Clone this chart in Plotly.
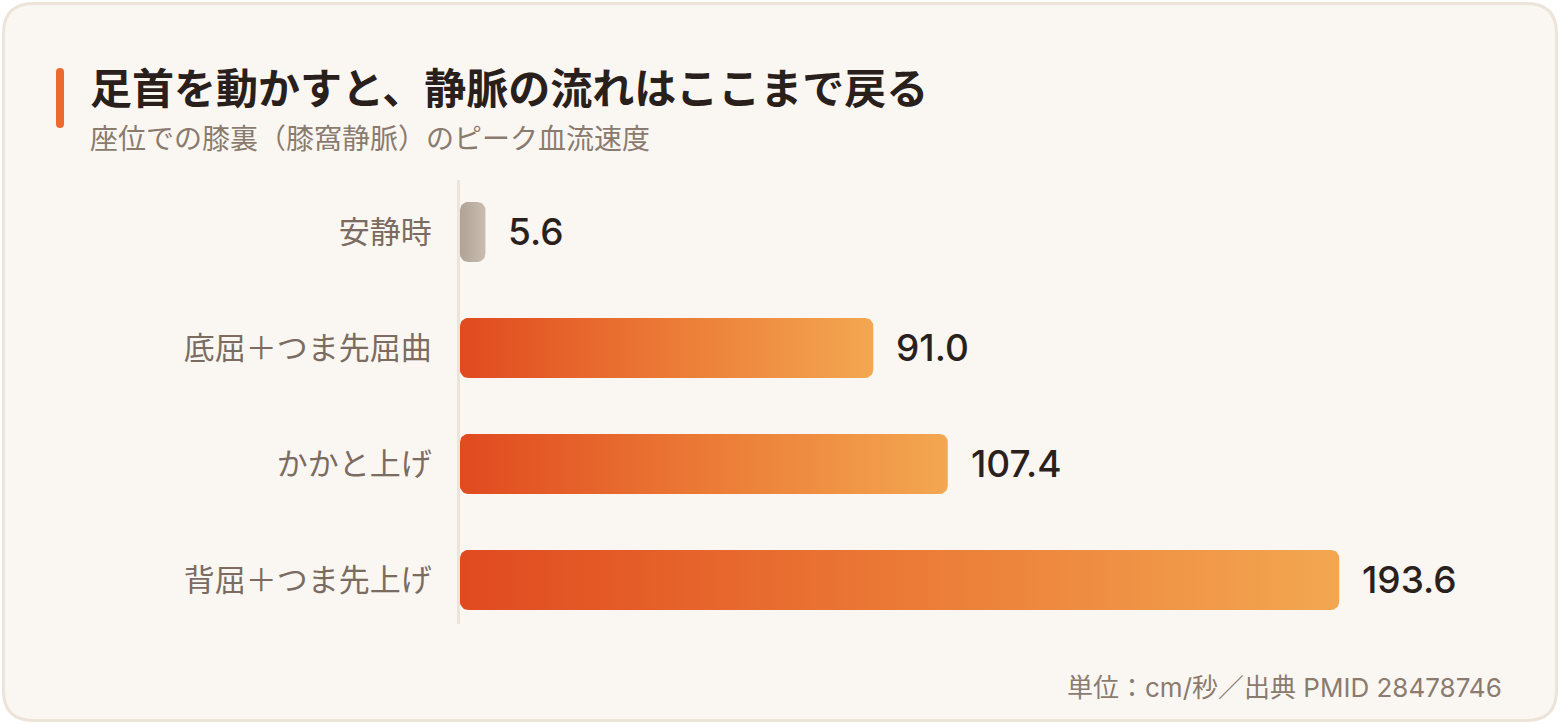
import numpy as np
import plotly.graph_objects as go

# ---- data ----
categories = ["安静時", "底屈＋つま先屈曲", "かかと上げ", "背屈＋つま先上げ"]
values = [5.6, 91.0, 107.4, 193.6]
value_labels = ["5.6", "91.0", "107.4", "193.6"]
title_text = "足首を動かすと、静脈の流れはここまで戻る"
subtitle_text = "座位での膝裏（膝窩静脈）のピーク血流速度"
footer_text = "単位：cm/秒／出典 PMID 28478746"

# ---- layout constants ----
W, H = 1560, 724
ML, MR, MT, MB = 460, 60, 180, 100
PW, PH = W - ML - MR, H - MT - MB
XMAX = 229.0
Y_TOP, Y_BOT = -0.448, -0.448 + PH / 116.0
KX = PW / XMAX          # px per x unit
KY = PH / (Y_BOT - Y_TOP)  # px per y unit

FONT = "Noto Sans CJK JP"
NUM_FONT = "Inter, Noto Sans CJK JP"
ORANGE_SCALE = [[0, "#e04a1f"], [0.5, "#eb7a36"], [1, "#f3a751"]]
GREY_SCALE = [[0, "#b0a395"], [1, "#c8bdb0"]]


def rounded_bar(x1, yc, half_px=30, r_px=8, n=10):
    """Polygon of a rounded horizontal bar from 0 to x1 at category position yc."""
    h = half_px / KY
    width_px = x1 * KX
    r = min(r_px, width_px / 2, half_px)
    rx, ry = r / KX, r / KY
    pts = []
    corners = [
        (x1 - rx, yc - h + ry, -np.pi / 2, 0),
        (x1 - rx, yc + h - ry, 0, np.pi / 2),
        (rx, yc + h - ry, np.pi / 2, np.pi),
        (rx, yc - h + ry, np.pi, 1.5 * np.pi),
    ]
    for cx, cy, a0, a1 in corners:
        for t in np.linspace(a0, a1, n):
            pts.append((cx + rx * np.cos(t), cy + ry * np.sin(t)))
    pts.append(pts[0])
    xs, ys = zip(*pts)
    return list(xs), list(ys)


fig = go.Figure()

for i, (cat, v) in enumerate(zip(categories, values)):
    xs, ys = rounded_bar(v, i)
    scale = GREY_SCALE if i == 0 else ORANGE_SCALE
    fig.add_trace(go.Scatter(
        x=xs, y=ys, mode="lines", fill="toself",
        line=dict(width=0, color="rgba(0,0,0,0)"),
        fillgradient=dict(type="horizontal", colorscale=scale),
        hoverinfo="skip", showlegend=False,
    ))

# value labels
for i, (v, lab) in enumerate(zip(values, value_labels)):
    fig.add_annotation(
        x=v, y=i, xref="x", yref="y", text=lab, showarrow=False,
        xanchor="left", yanchor="middle", xshift=21,
        font=dict(family=NUM_FONT, size=37, color="#2a211c", weight=500),
    )


def px2x(px):
    return (px - ML) / PW


def py2y(py):
    return (H - MB - py) / PH


def rounded_rect_path(x0, y0, x1, y1, r):
    """Rounded rect path in paper coordinates from pixel coordinates."""
    P = lambda px, py: f"{px2x(px):.6f},{py2y(py):.6f}"
    return (
        f"M {P(x0 + r, y0)} L {P(x1 - r, y0)} Q {P(x1, y0)} {P(x1, y0 + r)} "
        f"L {P(x1, y1 - r)} Q {P(x1, y1)} {P(x1 - r, y1)} "
        f"L {P(x0 + r, y1)} Q {P(x0, y1)} {P(x0, y1 - r)} "
        f"L {P(x0, y0 + r)} Q {P(x0, y0)} {P(x0 + r, y0)} Z"
    )


shapes = [
    dict(type="path", xref="paper", yref="paper", layer="below",
         path=rounded_rect_path(3.5, 3.5, 1556.5, 720.5, 30),
         fillcolor="#faf7f3", line=dict(color="#ece3d9", width=3)),
    dict(type="path", xref="paper", yref="paper", layer="above",
         path=rounded_rect_path(56, 68, 64, 128, 4),
         fillcolor="#eb6a2f", line=dict(width=0)),
]

annotations_extra = [
    dict(x=px2x(88), y=py2y(85), xref="paper", yref="paper", text=f"<b>{title_text}</b>",
         showarrow=False, xanchor="left", yanchor="middle",
         font=dict(family=FONT, size=42, color="#2a201b")),
    dict(x=px2x(88), y=py2y(137), xref="paper", yref="paper", text=subtitle_text,
         showarrow=False, xanchor="left", yanchor="middle",
         font=dict(family=FONT, size=28, color="#8b7b6f")),
    dict(x=px2x(1504), y=py2y(687), xref="paper", yref="paper", text=footer_text,
         showarrow=False, xanchor="right", yanchor="middle",
         font=dict(family=NUM_FONT, size=26, color="#8b7b6f")),
]
for a in annotations_extra:
    fig.add_annotation(**a)

fig.update_layout(
    width=W, height=H,
    margin=dict(l=ML, r=MR, t=MT, b=MB),
    paper_bgcolor="#ffffff",
    plot_bgcolor="rgba(0,0,0,0)",
    shapes=shapes,
    showlegend=False,
    xaxis=dict(range=[0, XMAX], visible=False, fixedrange=True),
    yaxis=dict(
        range=[Y_BOT, Y_TOP], tickmode="array",
        tickvals=list(range(len(categories))), ticktext=categories,
        showgrid=False, zeroline=False, showline=True, linecolor="#ece3d9", linewidth=3,
        ticks="outside", ticklen=19, tickcolor="rgba(0,0,0,0)",
        tickfont=dict(family=FONT, size=31, color="#7b6b60"),
        layer="below traces", fixedrange=True,
    ),
)

fig.write_html("out.html")
